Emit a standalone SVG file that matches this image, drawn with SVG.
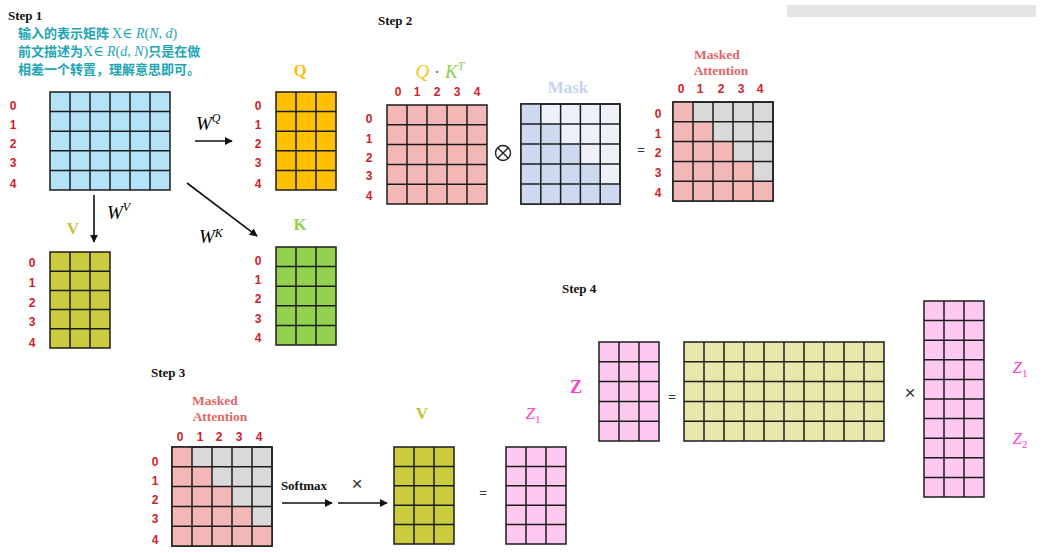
<svg xmlns="http://www.w3.org/2000/svg" width="1048" height="553" viewBox="0 0 1048 553">
<style>
.g{stroke:#1c1c1c;stroke-width:1.5;fill:none}
.o{stroke:#1c1c1c;stroke-width:1.5}
.step{font-family:"Liberation Serif","DejaVu Serif",serif;font-weight:bold;font-size:13px;fill:#111}
.idx{font-family:"Liberation Sans",Arial,sans-serif;font-weight:bold;font-size:12px;fill:#d0202a;text-anchor:middle}
.ttl{font-family:"Liberation Serif","DejaVu Serif",serif;font-weight:bold;text-anchor:middle}
.ma{font-family:"Liberation Serif","DejaVu Serif",serif;font-weight:bold;font-size:13.5px;fill:#e06666;text-anchor:middle}
.math{font-family:"Liberation Serif","DejaVu Serif",serif;font-style:italic}
.cn{font-family:"Noto Sans CJK SC","Liberation Serif",serif;font-size:13px;fill:#1ea4b4;font-weight:bold}
.cm{font-family:"Liberation Serif","DejaVu Serif",serif;font-weight:normal;font-size:14px}
.arr{stroke:#111;stroke-width:1.6;fill:none;marker-end:url(#ah)}
.op{font-family:"Liberation Sans",Arial,sans-serif;font-size:13px;fill:#333;text-anchor:middle}
.x{font-size:19px}
.zl{fill:#ff40c8}
</style>
<defs>
<marker id="ah" viewBox="0 0 10 10" refX="9" refY="5" markerWidth="8" markerHeight="8" orient="auto" markerUnits="userSpaceOnUse"><path d="M0 0L10 5L0 10z" fill="#111"/></marker>
</defs>
<rect x="787" y="5" width="249" height="12" fill="#e5e5e5"/>

<g id="step1-text">
<text class="step" x="8" y="20">Step 1</text>
<text class="cn" x="18" y="38">输入的表示矩阵 <tspan class="cm">X∈ </tspan><tspan class="cm" font-style="italic">R</tspan><tspan class="cm">(</tspan><tspan class="cm" font-style="italic">N</tspan><tspan class="cm">, </tspan><tspan class="cm" font-style="italic">d</tspan><tspan class="cm">)</tspan></text>
<text class="cn" x="18" y="56">前文描述为<tspan class="cm">X∈ </tspan><tspan class="cm" font-style="italic">R</tspan><tspan class="cm">(</tspan><tspan class="cm" font-style="italic">d</tspan><tspan class="cm">, </tspan><tspan class="cm" font-style="italic">N</tspan><tspan class="cm">)</tspan>只是在做</text>
<text class="cn" x="18" y="74">相差一个转置，理解意思即可。</text>
</g>

<g id="X">
<rect x="50" y="92" width="120" height="98" fill="#b4e2f6" class="o"/>
<path class="g" d="M70 92V190M90 92V190M110 92V190M130 92V190M150 92V190M50 111.6H170M50 131.2H170M50 150.8H170M50 170.4H170"/>
<text class="idx" x="13" y="110">0</text><text class="idx" x="13" y="129">1</text><text class="idx" x="13" y="148">2</text><text class="idx" x="13" y="167">3</text><text class="idx" x="13" y="188">4</text>
</g>

<g id="Q">
<text class="ttl" x="300" y="76" font-size="17" fill="#ffc000">Q</text>
<rect x="276" y="92" width="60" height="98" fill="#ffc000" class="o"/>
<path class="g" d="M296 92V190M316 92V190M276 111.6H336M276 131.2H336M276 150.8H336M276 170.4H336"/>
<text class="idx" x="258" y="110">0</text><text class="idx" x="258" y="129">1</text><text class="idx" x="258" y="148">2</text><text class="idx" x="258" y="167">3</text><text class="idx" x="258" y="188">4</text>
</g>

<g id="K">
<text class="ttl" x="300" y="230" font-size="17" fill="#92d050">K</text>
<rect x="276" y="247" width="60" height="98" fill="#92d050" class="o"/>
<path class="g" d="M296 247V345M316 247V345M276 266.6H336M276 286.2H336M276 305.8H336M276 325.4H336"/>
<text class="idx" x="258" y="265">0</text><text class="idx" x="258" y="284">1</text><text class="idx" x="258" y="303">2</text><text class="idx" x="258" y="323">3</text><text class="idx" x="258" y="342">4</text>
</g>

<g id="V">
<text class="ttl" x="73" y="234" font-size="17" fill="#c4c43a">V</text>
<rect x="50" y="252" width="60" height="96" fill="#cbcb40" class="o"/>
<path class="g" d="M70 252V348M90 252V348M50 271.2H110M50 290.4H110M50 309.6H110M50 328.8H110"/>
<text class="idx" x="32" y="267">0</text><text class="idx" x="32" y="287">1</text><text class="idx" x="32" y="307">2</text><text class="idx" x="32" y="326">3</text><text class="idx" x="32" y="347">4</text>
</g>

<g id="step2-text">
<text class="step" x="378" y="25">Step 2</text>
</g>

<g id="QKT">
<text x="440" y="78" text-anchor="middle" font-size="19" class="math"><tspan fill="#f5c518">Q</tspan><tspan fill="#777" font-style="normal"> · </tspan><tspan fill="#8fcc4c">K</tspan><tspan fill="#8fcc4c" font-size="12" dy="-8">T</tspan></text>
<rect x="387" y="105" width="100" height="99" fill="#f3b8b6" class="o"/>
<path class="g" d="M407 105V204M427 105V204M447 105V204M467 105V204M387 124.8H487M387 144.6H487M387 164.4H487M387 184.2H487"/>
<text class="idx" x="398" y="96">0</text><text class="idx" x="417" y="96">1</text><text class="idx" x="437" y="96">2</text><text class="idx" x="457" y="96">3</text><text class="idx" x="477" y="96">4</text>
<text class="idx" x="369" y="123">0</text><text class="idx" x="369" y="143">1</text><text class="idx" x="369" y="162">2</text><text class="idx" x="369" y="180">3</text><text class="idx" x="369" y="200">4</text>
</g>

<g id="otimes">
<circle cx="503" cy="153" r="7.5" fill="none" stroke="#222" stroke-width="1.4"/>
<path d="M497.7 147.7L508.3 158.3M508.3 147.7L497.7 158.3" stroke="#222" stroke-width="1.4"/>
</g>

<g id="Mask">
<text class="ttl" x="568" y="93" font-size="17" fill="#c5d3ee">Mask</text>
<rect x="521" y="104" width="99" height="100" fill="#eef1f9" class="o"/>
<path d="M521 104H540.8V124H560.6V144H580.4V164H600.2V184H620V204H521Z" fill="#cdd9ee"/>
<path class="g" d="M540.8 104V204M560.6 104V204M580.4 104V204M600.2 104V204M521 124H620M521 144H620M521 164H620M521 184H620"/>
<rect x="521" y="104" width="99" height="100" class="g"/>
</g>

<text class="op" x="641" y="154">=</text>

<g id="MaskedAttention2">
<text class="ma" x="717" y="59">Masked</text>
<text class="ma" x="721" y="75">Attention</text>
<rect x="673" y="102" width="100" height="99" fill="#d9d9d9" class="o"/>
<path d="M673 102H693V121.8H713V141.6H733V161.4H753V181.2H773V201H673Z" fill="#f3b8b6"/>
<path class="g" d="M693 102V201M713 102V201M733 102V201M753 102V201M673 121.8H773M673 141.6H773M673 161.4H773M673 181.2H773"/>
<rect x="673" y="102" width="100" height="99" class="g"/>
<text class="idx" x="681" y="93">0</text><text class="idx" x="700" y="93">1</text><text class="idx" x="721" y="93">2</text><text class="idx" x="741" y="93">3</text><text class="idx" x="760" y="93">4</text>
<text class="idx" x="658" y="118">0</text><text class="idx" x="658" y="138">1</text><text class="idx" x="658" y="157">2</text><text class="idx" x="658" y="177">3</text><text class="idx" x="658" y="197">4</text>
</g>

<g id="step3-text">
<text class="step" x="151" y="377">Step 3</text>
</g>

<g id="MaskedAttention3">
<text class="ma" x="215" y="405">Masked</text>
<text class="ma" x="220" y="421">Attention</text>
<rect x="172" y="447" width="100" height="99" fill="#d9d9d9" class="o"/>
<path d="M172 447H192V466.8H212V486.6H232V506.4H252V526.2H272V546H172Z" fill="#f3b8b6"/>
<path class="g" d="M192 447V546M212 447V546M232 447V546M252 447V546M172 466.8H272M172 486.6H272M172 506.4H272M172 526.2H272"/>
<rect x="172" y="447" width="100" height="99" class="g"/>
<text class="idx" x="180" y="441">0</text><text class="idx" x="200" y="441">1</text><text class="idx" x="219" y="441">2</text><text class="idx" x="239" y="441">3</text><text class="idx" x="259" y="441">4</text>
<text class="idx" x="155" y="466">0</text><text class="idx" x="155" y="485">1</text><text class="idx" x="155" y="504">2</text><text class="idx" x="155" y="523">3</text><text class="idx" x="155" y="544">4</text>
</g>

<g id="softmax-label">
<text class="step" x="304" y="490" text-anchor="middle">Softmax</text>
<text class="op x" x="357" y="490">×</text>
</g>

<g id="V3">
<text class="ttl" x="422" y="419" font-size="17" fill="#c4c43a">V</text>
<rect x="394" y="447" width="60" height="97" fill="#cbcb40" class="o"/>
<path class="g" d="M414 447V544M434 447V544M394 466.4H454M394 485.8H454M394 505.2H454M394 524.6H454"/>
</g>

<text class="op" x="483" y="497">=</text>

<g id="Z1">
<text x="533" y="419" text-anchor="middle" font-size="17" class="math zl">Z<tspan font-size="11" dy="4" font-style="normal">1</tspan></text>
<rect x="506" y="447" width="60" height="97" fill="#ffc8f0" class="o"/>
<path class="g" d="M526 447V544M546 447V544M506 466.4H566M506 485.8H566M506 505.2H566M506 524.6H566"/>
</g>

<g id="step4-text">
<text class="step" x="562" y="293">Step 4</text>
</g>

<g id="Z">
<text class="ttl zl" x="576" y="393" font-size="18">Z</text>
<rect x="599" y="342" width="60" height="99" fill="#ffc8f0" class="o"/>
<path class="g" d="M619 342V441M639 342V441M599 361.8H659M599 381.6H659M599 401.4H659M599 421.2H659"/>
</g>

<text class="op" x="672" y="401">=</text>

<g id="W">
<rect x="684" y="342" width="200" height="99" fill="#e8e6a8" class="o"/>
<path class="g" d="M704 342V441M724 342V441M744 342V441M764 342V441M784 342V441M804 342V441M824 342V441M844 342V441M864 342V441M684 361.8H884M684 381.6H884M684 401.4H884M684 421.2H884"/>
</g>

<text class="op x" x="910" y="399">×</text>

<g id="Zcat">
<rect x="924" y="301" width="60" height="196" fill="#ffc8f0" class="o"/>
<path class="g" d="M944 301V497M964 301V497M924 320.6H984M924 340.2H984M924 359.8H984M924 379.4H984M924 399H984M924 418.6H984M924 438.2H984M924 457.8H984M924 477.4H984"/>
<text x="1020" y="373" text-anchor="middle" font-size="17" class="math zl">Z<tspan font-size="11" dy="4" font-style="normal">1</tspan></text>
<text x="1020" y="444" text-anchor="middle" font-size="17" class="math zl">Z<tspan font-size="11" dy="4" font-style="normal">2</tspan></text>
</g>

<g id="connectors">
<path class="arr" d="M195 141H232"/>
<path class="arr" d="M94 195V242"/>
<path class="arr" d="M187 183L257 236"/>
<path class="arr" d="M282 503H332"/>
<path class="arr" d="M338 503H387"/>
<text class="math" x="196" y="130" font-size="19">W<tspan font-size="12" dy="-8">Q</tspan></text>
<text class="math" x="107" y="219" font-size="19">W<tspan font-size="12" dy="-8">V</tspan></text>
<text class="math" x="199" y="243" font-size="19">W<tspan font-size="12" dy="-6">K</tspan></text>
</g>
</svg>
